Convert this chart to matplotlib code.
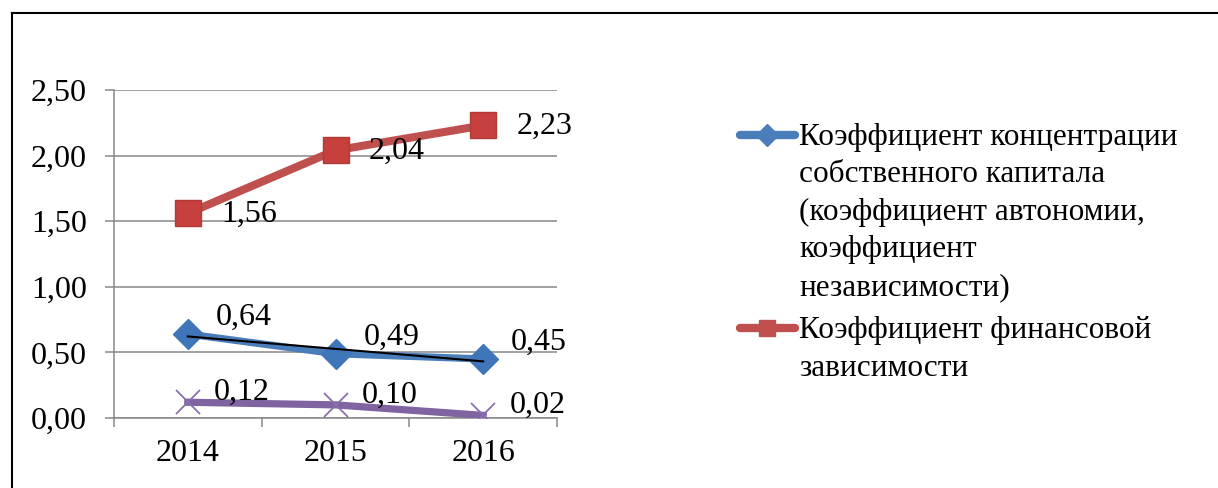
import numpy as np
import matplotlib.pyplot as plt
from matplotlib.lines import Line2D

plt.rcParams['font.family'] = ['Liberation Serif', 'DejaVu Serif']

years = ['2014', '2015', '2016']
autonomy = [0.64, 0.49, 0.45]
dependence = [1.56, 2.04, 2.23]
third = [0.12, 0.10, 0.02]

label_autonomy = ("Коэффициент концентрации\nсобственного капитала\n"
                  "(коэффициент автономии,\nкоэффициент\nнезависимости)")
label_dependence = "Коэффициент финансовой\nзависимости"

blue = '#4A7EBB'
red = '#C0504D'
purple = '#8064A2'
grid_c = '#878787'
fs = 23
fs_leg = 22.5

W, H = 1218, 488
fig = plt.figure(figsize=(W / 100, H / 100), dpi=100)


def fx(px):
    return px / W


def fy(py):
    return 1 - py / H


ax = fig.add_axes([fx(114), fy(418), fx(557 - 114), (418 - 90) / H])
x = np.arange(len(years))

ax.plot(x, dependence, color=red, lw=5.8, marker='s', ms=19,
        mfc='#C8403D', mec='#B03A37', mew=1, zorder=3)
ax.plot(x, autonomy, color=blue, lw=5.2, marker='D', ms=15.5,
        mfc='#3F76BA', mec='#3F76BA', zorder=3)
ax.plot(x, third, color=purple, lw=5.2, marker='x', ms=17, mew=1.3,
        mec='#8A6FAD', zorder=3)

# linear trend on the blue series
k, b = np.polyfit(x, autonomy, 1)
ax.plot(x, k * x + b, color='black', lw=1.5, zorder=4)


def fmt(v):
    return f"{v:.2f}".replace('.', ',')


for xi, v in zip(x, dependence):
    ax.annotate(fmt(v), (xi, v), xytext=(24, -1), textcoords='offset points',
                ha='left', va='center', fontsize=fs, zorder=5)
for xi, v in zip(x, autonomy):
    ax.annotate(fmt(v), (xi, v), xytext=(20, 12), textcoords='offset points',
                ha='left', va='center', fontsize=fs, zorder=5)
for xi, v in zip(x, third):
    ax.annotate(fmt(v), (xi, v), xytext=(19, 7), textcoords='offset points',
                ha='left', va='center', fontsize=fs, zorder=5)

ax.set_xlim(-0.5, 2.5)
ax.set_ylim(0, 2.5)
yt = np.arange(0, 2.51, 0.5)
ax.set_yticks(yt)
ax.set_yticklabels([fmt(v) for v in yt], fontsize=fs)
ax.set_xticks(x)
ax.set_xticklabels(years, fontsize=fs)
ax.set_xticks(np.arange(-0.5, 2.6, 1), minor=True)
ax.tick_params(axis='x', which='major', length=0, pad=15)
ax.tick_params(axis='x', which='minor', length=6.5, width=1.1, color=grid_c)
ax.tick_params(axis='y', length=6.5, width=1.1, color=grid_c, pad=13)
ax.grid(axis='y', color=grid_c, lw=1.1, zorder=0)
ax.set_axisbelow(True)
for s in ['top', 'right']:
    ax.spines[s].set_visible(False)
for s in ['left', 'bottom']:
    ax.spines[s].set_color(grid_c)
    ax.spines[s].set_linewidth(1.1)

# outer frame (only top and left edges visible)
fig.add_artist(Line2D([fx(12), 1], [fy(13), fy(13)], color='black', lw=1.5))
fig.add_artist(Line2D([fx(12), fx(12)], [fy(13), 0], color='black', lw=1.5))

# legend drawn by hand so the key sits on the first line
entries = [(label_autonomy, blue, 'D', 15, 135),
           (label_dependence, red, 's', 15, 328)]
for text, c, m, ms, y0 in entries:
    fig.add_artist(Line2D([fx(740), fx(795)], [fy(y0), fy(y0)], color=c,
                          lw=6, solid_capstyle='round'))
    fig.add_artist(Line2D([fx(767)], [fy(y0)], color=c, marker=m, ms=ms * 0.75,
                          lw=0))
    for i, line in enumerate(text.split('\n')):
        fig.text(fx(799), fy(y0 + 10 + i * 37.5), line, fontsize=fs_leg,
                 ha='left', va='baseline')

fig.savefig('out.png', dpi=100, facecolor='white')
